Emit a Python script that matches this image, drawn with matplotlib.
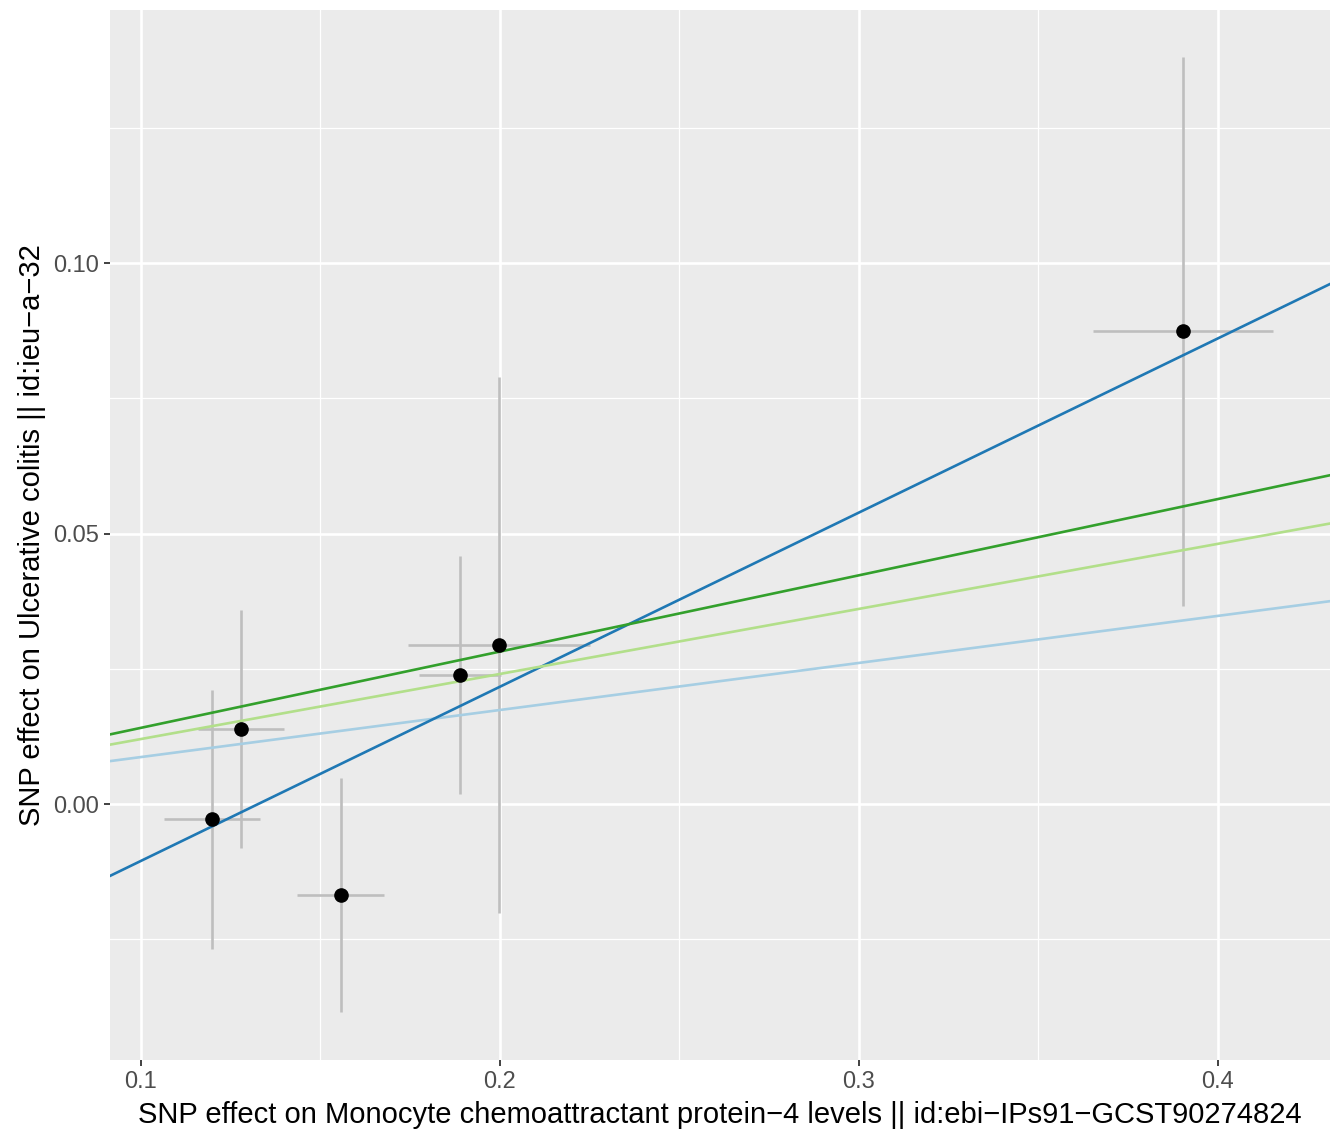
import matplotlib
matplotlib.use("Agg")
import matplotlib.pyplot as plt
from matplotlib.ticker import MultipleLocator

plt.rcParams["font.family"] = ["Liberation Sans", "DejaVu Sans"]

# SNP effects (exposure / outcome) with standard errors
beta_exp = [0.1198, 0.1279, 0.1557, 0.1889, 0.1997, 0.3903]
se_exp = [0.0134, 0.0120, 0.0121, 0.0113, 0.0254, 0.0250]
beta_out = [-0.0028, 0.0139, -0.0168, 0.0238, 0.0294, 0.0874]
se_out = [0.0239, 0.0220, 0.0217, 0.0220, 0.0496, 0.0507]

# MR method fits (intercept, slope)
methods = ["Inverse variance weighted", "MR Egger", "Simple mode", "Weighted median"]
intercepts = [0.0, -0.0427, 0.0, 0.0]
slopes = [0.087, 0.322, 0.1203, 0.141]
method_colors = ["#A6CEE3", "#1F78B4", "#B2DF8A", "#33A02C"]

fig = plt.figure(figsize=(13.3, 11.32), dpi=100)
ax = fig.add_axes([110 / 1330, 72 / 1132, 1220 / 1330, 1050 / 1132])
ax.set_facecolor("#EBEBEB")
for s in ax.spines.values():
    s.set_visible(False)

ax.set_xlim(0.0914, 0.4312)
ax.set_ylim(-0.0473, 0.1468)
ax.xaxis.set_major_locator(MultipleLocator(0.1))
ax.xaxis.set_minor_locator(MultipleLocator(0.05))
ax.yaxis.set_major_locator(MultipleLocator(0.05))
ax.yaxis.set_minor_locator(MultipleLocator(0.025))
ax.grid(which="major", color="white", linewidth=1.9)
ax.grid(which="minor", color="white", linewidth=0.9)
ax.set_axisbelow(True)

ax.errorbar(beta_exp, beta_out, yerr=se_out, fmt="none", ecolor="#BEBEBE",
            elinewidth=1.9, capsize=0, zorder=2)
ax.errorbar(beta_exp, beta_out, xerr=se_exp, fmt="none", ecolor="#BEBEBE",
            elinewidth=1.9, capsize=0, zorder=2)

for name, b0, b1, c in zip(methods, intercepts, slopes, method_colors):
    ax.axline((0, b0), slope=b1, color=c, linewidth=1.9, label=name, zorder=3)

ax.plot(beta_exp, beta_out, "o", color="black", markersize=9.5, zorder=4)

ax.set_xticks([0.1, 0.2, 0.3, 0.4])
ax.set_xticklabels(["0.1", "0.2", "0.3", "0.4"])
ax.set_yticks([0.0, 0.05, 0.10])
ax.set_yticklabels(["0.00", "0.05", "0.10"])
ax.tick_params(which="major", length=4, width=1.3, color="#333333",
               labelcolor="#4D4D4D", labelsize=17, pad=4)
ax.tick_params(which="minor", length=0)

ax.set_xlabel("SNP effect on Monocyte chemoattractant protein\u22124 levels || id:ebi\u2212IPs91\u2212GCST90274824",
              fontsize=21, labelpad=6)
ax.set_ylabel("SNP effect on Ulcerative colitis || id:ieu\u2212a\u221232", fontsize=21, labelpad=5)

fig.savefig("out.png", dpi=100)
